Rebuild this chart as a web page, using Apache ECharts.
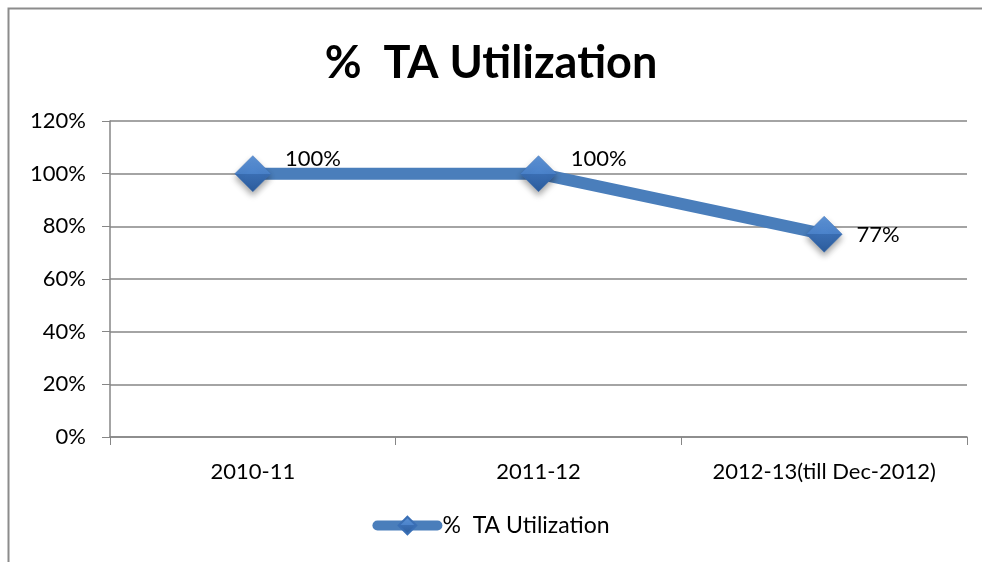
<!DOCTYPE html>
<html>
<head>
<meta charset="utf-8">
<script src="https://cdn.jsdelivr.net/npm/echarts@6/dist/echarts.min.js"></script>
<style>
  html, body { margin: 0; padding: 0; background: #fff; }
  #chart { width: 982px; height: 562px; }
</style>
</head>
<body>
<div id="chart"></div>
<script>
const categories = ['2010-11', '2011-12', '2012-13(till Dec-2012)']
const utilization = [1.00, 1.00, 0.77]
const seriesName = '%  TA Utilization'

const font = 'Lato, "Open Sans", sans-serif'
const blue = '#4A7EBB'

const diamondFill = {
  type: 'linear', x: 0, y: 0, x2: 0, y2: 1,
  colorStops: [
    { offset: 0, color: '#5E93D6' },
    { offset: 0.5, color: '#4A82CA' },
    { offset: 0.5, color: '#3A6EB3' },
    { offset: 1, color: '#2C5C9C' }
  ]
}

const chart = echarts.init(document.getElementById('chart'))

chart.setOption({
  backgroundColor: '#fff',
  animation: false,
  graphic: [
    {
      type: 'rect',
      shape: { x: 8.5, y: 8.5, width: 1100, height: 700 },
      style: { fill: 'none', stroke: '#8c8c8c', lineWidth: 2 },
      silent: true,
      z: -1
    }
  ],
  title: {
    text: seriesName,
    left: 'center',
    top: 36,
    textStyle: { fontFamily: font, fontWeight: 'bold', fontSize: 45, color: '#000' }
  },
  grid: { left: 110, right: 15, top: 121, bottom: 125 },
  legend: {
    bottom: 20,
    left: 'center',
    itemWidth: 60,
    itemHeight: 22,
    itemGap: 4,
    lineStyle: { width: 10, cap: 'round' },
    textStyle: { fontFamily: font, fontSize: 23, color: '#000' },
    data: [seriesName]
  },
  xAxis: {
    type: 'category',
    data: categories,
    boundaryGap: true,
    axisLine: { lineStyle: { color: '#868686', width: 1.5 } },
    axisTick: { show: true, length: 8, interval: 0, lineStyle: { color: '#868686' } },
    axisLabel: { interval: 0, margin: 24, fontFamily: font, fontSize: 22, color: '#000' }
  },
  yAxis: {
    type: 'value',
    min: 0,
    max: 1.2,
    interval: 0.2,
    axisLine: { show: true, lineStyle: { color: '#868686', width: 1.5 } },
    axisTick: { show: true, length: 8, inside: false, lineStyle: { color: '#868686' } },
    splitLine: { lineStyle: { color: '#868686', width: 1.5 } },
    axisLabel: {
      margin: 24,
      fontFamily: font,
      fontSize: 22,
      color: '#000',
      formatter: v => Math.round(v * 100) + '%'
    }
  },
  series: [{
    name: seriesName,
    type: 'line',
    data: utilization.map((v, i) => ({
      value: v,
      label: { offset: i < 2 ? [0, -15] : [0, 1] }
    })),
    symbol: 'diamond',
    symbolSize: 36,
    lineStyle: { color: blue, width: 12 },
    itemStyle: {
      color: diamondFill,
      borderColor: '#3A6FB5',
      borderWidth: 0.5,
      shadowColor: 'rgba(0,0,0,0.35)',
      shadowBlur: 6,
      shadowOffsetY: 4
    },
    label: {
      show: true,
      position: 'right',
      distance: 14,
      fontFamily: font,
      fontSize: 22,
      color: '#000',
      formatter: p => Math.round(p.value * 100) + '%'
    },
    z: 3
  }]
})
</script>
</body>
</html>
